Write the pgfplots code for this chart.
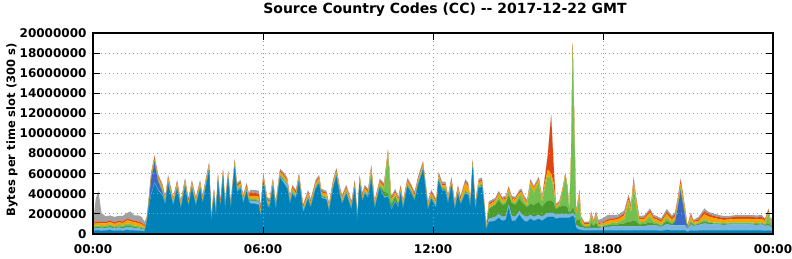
\documentclass[border=0pt]{standalone}
\usepackage{pgfplots}
\usepackage{pgfplotstable}
\pgfplotsset{compat=1.18}
\usepackage{fontspec}
\setmainfont{DejaVu Sans}
\definecolor{cteal}{RGB}{0,130,185}
\definecolor{clb}{RGB}{120,182,222}
\definecolor{crb}{RGB}{60,105,200}
\definecolor{cdg}{RGB}{75,155,45}
\definecolor{clg}{RGB}{115,192,80}
\definecolor{cor}{RGB}{245,165,0}
\definecolor{crd}{RGB}{225,70,15}
\definecolor{cgy}{RGB}{160,160,160}
\pgfplotstableread{
t te lb rb dg lg or rd gy
0.00 0.30 0.20 0 0.10 0.10 0.20 0.10 0.10
0.10 0.35 0.25 0 0.10 0.15 0.25 0.15 2.30
0.19 0.35 0.25 0 0.10 0.15 0.25 0.15 3.05
0.30 0.30 0.25 0 0.10 0.15 0.25 0.15 0.90
0.45 0.35 0.25 0 0.10 0.15 0.20 0.15 0.55
0.60 0.40 0.25 0 0.15 0.15 0.25 0.15 0.50
0.75 0.30 0.25 0 0.10 0.10 0.25 0.15 0.55
0.90 0.35 0.30 0 0.10 0.15 0.25 0.15 0.50
1.05 0.30 0.25 0 0.15 0.15 0.25 0.15 0.55
1.20 0.40 0.30 0 0.15 0.20 0.30 0.15 0.60
1.32 0.35 0.30 0 0.15 0.20 0.30 0.15 0.80
1.45 0.35 0.25 0 0.10 0.15 0.30 0.15 0.55
1.60 0.30 0.25 0 0.10 0.15 0.30 0.15 0.60
1.72 0.30 0.20 0 0.10 0.10 0.25 0.15 0.60
1.82 0.25 0.15 0 0.05 0.10 0.20 0.10 0.35
1.90 1.20 0.10 0 0.05 0.05 0.15 0.10 0.10
1.97 2.60 0.10 0.30 0.10 0.10 0.20 0.15 0.10
2.05 3.80 0.10 1.50 0.10 0.10 0.20 0.15 0.20
2.17 5.00 0.10 2.00 0.10 0.10 0.20 0.15 0.20
2.30 4.30 0.10 0.80 0.10 0.10 0.20 0.15 0.20
2.45 3.80 0.10 0.30 0.10 0.10 0.25 0.15 0.20
2.55 2.90 0.10 0 0.10 0.10 0.25 0.15 0.20
2.65 5.00 0.10 0 0.10 0.10 0.25 0.15 0.20
2.83 2.80 0.10 0 0.10 0.10 0.25 0.15 0.20
2.97 4.50 0.10 0 0.10 0.10 0.25 0.15 0.20
3.10 2.50 0.10 0 0.10 0.10 0.25 0.15 0.20
3.25 4.70 0.10 0 0.10 0.10 0.25 0.15 0.20
3.37 2.70 0.10 0 0.10 0.10 0.25 0.15 0.20
3.49 4.50 0.10 0 0.10 0.10 0.25 0.15 0.20
3.63 2.80 0.10 0 0.10 0.10 0.25 0.15 0.20
3.78 4.50 0.10 0 0.10 0.10 0.25 0.15 0.20
3.87 3.00 0.10 0 0.10 0.10 0.25 0.15 0.20
3.97 4.50 0.10 0 0.10 0.10 0.25 0.15 0.20
4.10 6.30 0.10 0 0.10 0.10 0.25 0.15 0.20
4.17 1.10 0.10 0 0.10 0.10 0.25 0.15 0.20
4.27 3.70 0.10 0 0.10 0.10 0.25 0.15 0.20
4.34 1.70 0.10 0 0.10 0.10 0.25 0.15 0.20
4.41 5.20 0.10 0 0.10 0.10 0.25 0.15 0.20
4.50 2.50 0.10 0 0.10 0.10 0.25 0.15 0.20
4.59 5.70 0.10 0 0.10 0.10 0.25 0.15 0.20
4.66 2.40 0.10 0 0.10 0.10 0.25 0.15 0.20
4.77 5.50 0.10 0 0.10 0.10 0.25 0.15 0.20
4.86 2.40 0.10 0 0.10 0.10 0.25 0.15 0.20
5.00 6.60 0.10 0 0.10 0.10 0.25 0.15 0.20
5.08 4.20 0.10 0 0.10 0.10 0.25 0.15 0.20
5.21 4.50 0.10 0 0.10 0.10 0.25 0.15 0.20
5.30 3.00 0.10 0 0.10 0.10 0.25 0.15 0.20
5.42 4.20 0.10 0 0.10 0.10 0.25 0.15 0.20
5.50 3.20 0.10 0 0.10 0.10 0.25 0.15 0.20
5.56 3.00 0.30 0 0.10 0.10 0.30 0.30 0.30
5.70 3.00 0.30 0 0.10 0.10 0.30 0.30 0.30
5.85 2.90 0.30 0 0.10 0.10 0.30 0.30 0.30
5.92 1.60 0.20 0 0.10 0.10 0.30 0.30 0.30
6.01 5.20 0.10 0 0.10 0.10 0.25 0.15 0.20
6.15 2.80 0.10 0 0.10 0.10 0.25 0.15 0.20
6.23 2.60 0.10 0 0.10 0.10 0.25 0.15 0.20
6.35 4.70 0.10 0 0.10 0.10 0.25 0.15 0.20
6.45 2.40 0.10 0 0.10 0.10 0.25 0.15 0.20
6.60 5.60 0.10 0 0.10 0.10 0.25 0.15 0.20
6.74 5.00 0.30 0 0.10 0.10 0.25 0.15 0.20
6.86 4.50 0.30 0 0.10 0.10 0.25 0.15 0.20
6.95 3.00 0.10 0 0.10 0.10 0.25 0.15 0.20
7.04 4.00 0.10 0 0.10 0.10 0.25 0.15 0.20
7.16 3.50 0.10 0 0.10 0.10 0.25 0.15 0.20
7.27 5.20 0.10 0 0.10 0.10 0.25 0.15 0.20
7.42 2.10 0.10 0 0.10 0.10 0.25 0.15 0.20
7.59 3.50 0.10 0 0.10 0.10 0.25 0.15 0.20
7.68 2.60 0.10 0 0.10 0.10 0.25 0.15 0.20
7.86 4.50 0.10 0 0.10 0.10 0.25 0.15 0.20
7.98 5.00 0.10 0 0.10 0.10 0.25 0.15 0.20
8.06 3.60 0.10 0 0.10 0.10 0.25 0.15 0.20
8.24 3.40 0.10 0 0.10 0.10 0.25 0.15 0.20
8.33 2.20 0.10 0 0.10 0.10 0.25 0.15 0.20
8.47 4.50 0.10 0 0.10 0.10 0.25 0.15 0.20
8.59 5.70 0.10 0 0.10 0.10 0.25 0.15 0.20
8.71 3.90 0.10 0 0.10 0.10 0.25 0.15 0.20
8.79 3.00 0.10 0 0.10 0.10 0.25 0.15 0.20
8.94 4.00 0.10 0 0.10 0.10 0.25 0.15 0.20
9.12 2.40 0.10 0 0.10 0.10 0.25 0.15 0.20
9.24 4.50 0.10 0 0.10 0.10 0.25 0.15 0.20
9.33 1.20 0.10 0 0.10 0.10 0.25 0.15 0.20
9.41 5.00 0.10 0 0.10 0.10 0.25 0.15 0.20
9.51 3.20 0.10 0 0.10 0.10 0.25 0.15 0.20
9.59 4.00 0.10 0 0.10 0.10 0.25 0.15 0.20
9.71 3.60 0.10 0 0.10 0.10 0.25 0.15 0.20
9.82 5.40 0.10 0 0.40 0.40 0.25 0.15 0.20
9.94 2.50 0.10 0 0.10 0.10 0.25 0.15 0.20
10.12 4.60 0.10 0 0.10 0.10 0.25 0.15 0.20
10.27 3.60 0.10 0 0.50 0.30 0.25 0.15 0.20
10.41 3.70 0.10 0 0.30 3.80 0.25 0.15 0.20
10.53 2.40 0.10 0 0.40 0.30 0.25 0.15 0.20
10.67 3.20 0.10 0 0.40 0.20 0.25 0.15 0.20
10.77 2.60 0.10 0 0.30 0.10 0.25 0.15 0.20
10.86 4.00 0.10 0 0.10 0.10 0.25 0.15 0.20
10.94 2.50 0.10 0 0.10 0.10 0.25 0.15 0.20
11.10 4.70 0.10 0 0.10 0.10 0.25 0.15 0.20
11.24 4.00 0.10 0 0.10 0.10 0.25 0.15 0.20
11.35 3.30 0.10 0 0.10 0.10 0.25 0.15 0.20
11.47 4.80 0.10 0 0.10 0.10 0.25 0.15 0.20
11.65 6.40 0.10 0 0.10 0.10 0.25 0.15 0.20
11.82 2.40 0.10 0 0.10 0.10 0.25 0.15 0.20
11.94 3.50 0.10 0 0.10 0.10 0.25 0.15 0.20
12.11 2.60 0.10 0 0.10 0.10 0.25 0.15 0.20
12.20 5.30 0.10 0 0.10 0.10 0.25 0.15 0.20
12.32 4.30 0.10 0 0.10 0.10 0.25 0.15 0.20
12.44 4.30 0.10 0 0.10 0.10 0.25 0.15 0.20
12.53 3.00 0.10 0 0.10 0.10 0.25 0.15 0.20
12.65 4.80 0.10 0 0.10 0.10 0.25 0.15 0.20
12.77 2.40 0.10 0 0.10 0.10 0.25 0.15 0.20
12.88 4.00 0.10 0 0.10 0.10 0.25 0.15 0.20
12.97 2.90 0.10 0 0.10 0.10 0.25 0.15 0.20
13.14 4.00 0.10 0 0.10 0.10 0.80 0.15 0.20
13.24 3.90 0.10 0 0.10 0.10 0.60 0.15 0.20
13.32 2.60 0.10 0 0.10 0.10 0.25 0.15 0.20
13.40 6.60 0.10 0 0.10 0.10 0.25 0.15 0.20
13.49 2.30 0.10 0 0.10 0.10 0.25 0.15 0.20
13.61 4.60 0.10 0 0.10 0.10 0.25 0.15 0.20
13.73 4.70 0.10 0 0.10 0.10 0.25 0.15 0.20
13.81 2.50 0.10 0 0.10 0.10 0.25 0.15 0.20
13.87 0.40 0.05 0 0.05 0.00 0.10 0.05 0.05
13.97 1.20 0.30 0 1.00 0.10 0.30 0.15 0.20
14.20 1.30 0.40 0 1.20 0.10 0.30 0.10 0.20
14.32 1.60 0.40 0 1.40 0.30 0.30 0.10 0.20
14.44 1.30 0.40 0 1.20 0.20 0.30 0.10 0.20
14.57 1.40 0.40 0 1.20 0.20 0.30 0.10 0.20
14.67 2.60 0.30 0 1.00 0.30 0.30 0.10 0.20
14.78 1.30 0.50 0 1.30 0.10 0.30 0.10 0.20
14.90 1.30 0.40 0 1.20 0.20 0.30 0.10 0.20
15.05 1.90 0.40 0 1.20 0.30 0.30 0.10 0.20
15.12 1.60 0.40 0 1.20 0.70 0.30 0.10 0.20
15.22 1.30 0.50 0 1.10 0.30 0.30 0.10 0.20
15.32 1.20 0.50 0 1.00 0.10 0.30 0.10 0.20
15.44 1.50 0.40 0 1.10 1.80 0.40 0.10 0.20
15.56 1.30 0.40 0 1.20 1.20 0.40 0.10 0.20
15.73 1.50 0.40 0 1.30 1.90 0.30 0.10 0.20
15.85 1.30 0.40 0 1.00 0.50 0.30 0.10 0.20
15.95 1.50 0.40 0 1.20 1.50 0.50 0.50 0.20
16.05 1.70 0.40 0 1.20 2.50 0.60 1.40 0.20
16.17 1.70 0.40 0 1.20 2.20 0.50 5.80 0.20
16.25 1.70 0.40 0 1.10 1.50 0.50 2.00 0.20
16.34 1.50 0.40 0 0.60 0.10 0.20 0.10 0.10
16.46 1.60 0.40 0 0.70 0.20 0.20 0.10 0.10
16.58 1.60 0.40 0 0.80 1.50 0.20 0.10 0.10
16.67 1.60 0.40 0 0.80 3.00 0.20 0.05 0.05
16.75 1.60 0.40 0 0.60 1.80 0.20 0.10 0.10
16.81 1.60 0.30 0 0.20 0.10 0.10 0.05 0.05
16.87 1.70 0.30 0 0.30 5.00 0.20 0.05 0.05
16.93 1.80 0.30 0 0.50 16.20 0.20 0.05 0.05
16.99 1.60 0.30 0 0.50 8.00 0.30 0.10 0.10
17.05 0.60 0.30 0 0.40 0.50 0.30 0.10 0.10
17.17 0.40 0.30 0 0.80 2.20 0.50 0.10 0.10
17.22 0.40 0.30 0 0.30 0.30 0.30 0.10 0.10
17.34 0.35 0.25 0 0.10 0.10 0.20 0.10 0.10
17.52 0.35 0.25 0 0.10 0.10 0.20 0.10 0.15
17.58 0.35 0.25 0 0.50 0.70 0.20 0.10 0.20
17.67 0.35 0.25 0 0.20 0.10 0.20 0.10 0.20
17.75 0.35 0.25 0 0.50 0.70 0.20 0.10 0.20
17.84 0.35 0.25 0 0.10 0.10 0.20 0.10 0.30
17.99 0.35 0.30 0 0.10 0.10 0.20 0.10 0.40
18.17 0.35 0.35 0 0.15 0.15 0.30 0.15 0.45
18.34 0.35 0.40 0 0.20 0.15 0.30 0.15 0.35
18.52 0.35 0.40 0 0.20 0.20 0.30 0.15 0.30
18.75 0.35 0.40 0 0.30 0.40 0.40 0.20 0.30
18.90 0.35 0.40 0 0.50 1.80 0.40 0.20 0.30
18.99 0.35 0.40 0 0.50 0.90 0.40 0.20 0.30
19.08 0.35 0.40 0 0.60 3.50 0.40 0.20 0.30
19.17 0.35 0.40 0 0.50 1.50 0.50 0.20 0.30
19.28 0.35 0.40 0 0.20 0.20 0.30 0.15 0.20
19.46 0.35 0.45 0 0.20 0.20 0.30 0.15 0.20
19.66 0.35 0.50 0 0.30 0.60 0.40 0.20 0.20
19.78 0.35 0.50 0 0.20 0.20 0.30 0.15 0.20
19.90 0.35 0.50 0 0.15 0.15 0.30 0.15 0.20
20.05 0.30 0.40 0 0.10 0.10 0.30 0.15 0.20
20.25 0.40 0.60 0 0.30 0.30 0.40 0.20 0.30
20.43 0.35 0.50 0 0.15 0.15 0.30 0.20 0.20
20.54 0.35 0.50 0.30 0.15 0.15 0.30 0.20 0.20
20.64 0.35 0.50 1.80 0.15 0.10 0.40 0.20 0.20
20.74 0.35 0.50 3.40 0.20 0.10 0.50 0.30 0.20
20.83 0.35 0.50 2.00 0.20 0.10 0.40 0.20 0.20
20.90 0.35 0.50 0.80 0.20 0.10 0.30 0.20 0.20
20.98 0.20 0.30 0 0.10 0.00 0.10 0.10 0.10
21.10 0.35 0.60 0 0.20 0.20 0.40 0.20 0.20
21.19 0.30 0.50 0 0.10 0.10 0.20 0.10 0.10
21.37 0.35 0.55 0 0.10 0.10 0.20 0.15 0.25
21.58 0.35 0.70 0 0.20 0.20 0.50 0.30 0.30
21.72 0.35 0.65 0 0.15 0.10 0.50 0.25 0.20
21.90 0.35 0.60 0 0.10 0.10 0.45 0.20 0.25
22.07 0.35 0.60 0 0.10 0.10 0.35 0.20 0.20
22.25 0.35 0.55 0 0.10 0.10 0.30 0.20 0.20
22.48 0.35 0.60 0 0.10 0.10 0.30 0.20 0.15
22.72 0.35 0.60 0 0.10 0.10 0.35 0.20 0.20
22.95 0.35 0.60 0 0.10 0.10 0.35 0.20 0.20
23.19 0.35 0.60 0 0.10 0.10 0.35 0.20 0.20
23.43 0.35 0.55 0 0.10 0.10 0.35 0.20 0.20
23.60 0.35 0.60 0 0.10 0.10 0.35 0.20 0.20
23.72 0.30 0.50 0 0.10 0.10 0.30 0.15 0.10
23.84 0.35 0.50 0 0.20 1.00 0.20 0.15 0.15
23.92 0.30 0.40 0 0.10 0.30 0.15 0.10 0.10
24.00 0.30 0.40 0 0.10 0.60 0.15 0.10 0.10
}\data

\begin{document}
\begin{tikzpicture}[x=1pt,y=1pt]
\useasboundingbox (0,0) rectangle (792,259);
\begin{axis}[
  at={(93pt,25pt)}, anchor=south west,
  scale only axis, width=680pt, height=201pt,
  xmin=0, xmax=24, ymin=0, ymax=20,
  stack plots=y,
  axis on top,
  xtick={0,6,12,18,24},
  xticklabels={00:00,06:00,12:00,18:00,00:00},
  ytick={0,2,4,6,8,10,12,14,16,18,20},
  yticklabels={0,2000000,4000000,6000000,8000000,10000000,12000000,14000000,16000000,18000000,20000000},
  tick align=inside, major tick length=7pt,
  every tick/.style={black, line width=1pt},
  grid=major,
  major grid style={gray!75, line width=0.8pt, dash pattern=on 0.8pt off 3.2pt},
  axis line style={line width=1.3pt},
  tick label style={font=\bfseries\fontsize{12}{13}\selectfont},
  xticklabel style={yshift=-7pt},
  yticklabel style={xshift=-3pt},
  /pgf/number format/assume math mode=true,
]
\addplot[fill=cteal, draw=cteal, line width=0.2pt] table[x=t,y=te] {\data} \closedcycle;
\addplot[fill=clb, draw=clb, line width=0.2pt] table[x=t,y=lb] {\data} \closedcycle;
\addplot[fill=crb, draw=none] table[x=t,y=rb] {\data} \closedcycle;
\addplot[fill=cdg, draw=none] table[x=t,y=dg] {\data} \closedcycle;
\addplot[fill=clg, draw=none] table[x=t,y=lg] {\data} \closedcycle;
\addplot[fill=cor, draw=none] table[x=t,y=or] {\data} \closedcycle;
\addplot[fill=crd, draw=none] table[x=t,y=rd] {\data} \closedcycle;
\addplot[fill=cgy, draw=none] table[x=t,y=gy] {\data} \closedcycle;
\end{axis}
\node[font=\bfseries\fontsize{14}{16}\selectfont] at (445,249) {Source Country Codes (CC) -{}- 2017-12-22 GMT};
\node[rotate=90, font=\bfseries\fontsize{11.5}{13}\selectfont] at (12,129) {Bytes per time slot (300 s)};
\end{tikzpicture}
\end{document}
